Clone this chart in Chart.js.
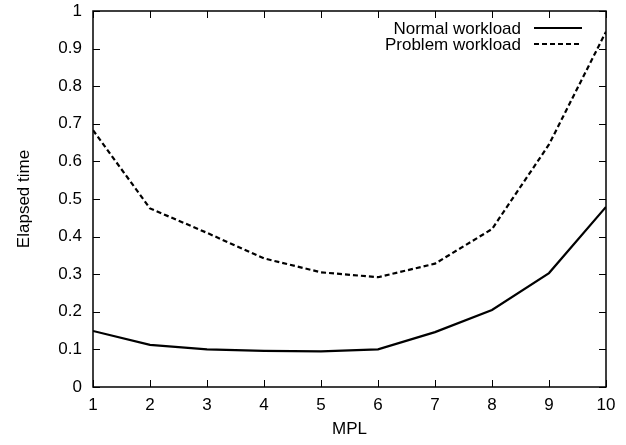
<!DOCTYPE html>
<html>
<head>
<meta charset="utf-8">
<script src="https://cdn.jsdelivr.net/npm/chart.js@4/dist/chart.umd.min.js"></script>
<style>
  html, body { margin: 0; padding: 0; background: #fff; }
  #wrap { width: 626px; height: 445px; }
</style>
</head>
<body>
<div id="wrap"><canvas id="chart" width="626" height="445"></canvas></div>
<script>
// -------- data --------
const mpl = [1, 2, 3, 4, 5, 6, 7, 8, 9, 10];
const normalWorkload  = [0.149, 0.112, 0.100, 0.096, 0.095, 0.100, 0.146, 0.205, 0.303, 0.479];
const problemWorkload = [0.683, 0.475, 0.410, 0.342, 0.305, 0.292, 0.328, 0.420, 0.645, 0.945];
const seriesLabels = ["Normal workload", "Problem workload"];
const xTitle = "MPL";
const yTitle = "Elapsed time";

const FONT = "'Liberation Sans', Arial, Helvetica, sans-serif";
const FS = 17;
const toPts = (ys) => ys.map((y, i) => ({ x: mpl[i], y }));
// gnuplot prints 0 and 1 without decimals
const fmtY = (v) => String(+v.toFixed(1));

// gnuplot-style frame + inward ticks on all four sides
const framePlugin = {
  id: "frame",
  afterDatasetsDraw(chart) {
    const { ctx, chartArea: a, scales } = chart;
    const len = 7;
    ctx.save();
    ctx.strokeStyle = "#000";
    ctx.lineWidth = 1;
    ctx.beginPath();
    scales.x.ticks.forEach(t => {
      const px = Math.round(scales.x.getPixelForValue(t.value)) + 0.5;
      ctx.moveTo(px, a.bottom); ctx.lineTo(px, a.bottom - len);
      ctx.moveTo(px, a.top);    ctx.lineTo(px, a.top + len);
    });
    scales.y.ticks.forEach(t => {
      const py = Math.round(scales.y.getPixelForValue(t.value)) + 0.5;
      ctx.moveTo(a.left, py);  ctx.lineTo(a.left + len, py);
      ctx.moveTo(a.right, py); ctx.lineTo(a.right - len, py);
    });
    ctx.stroke();
    ctx.lineWidth = 1.5;
    ctx.strokeRect(a.left, a.top, a.right - a.left, a.bottom - a.top);
    ctx.restore();
  }
};

// key in the top right corner: text on the left, line sample on the right
const keyPlugin = {
  id: "key",
  afterDatasetsDraw(chart) {
    const { ctx, chartArea: a } = chart;
    ctx.save();
    ctx.font = FS + "px " + FONT;
    ctx.fillStyle = "#000";
    ctx.textAlign = "right";
    ctx.textBaseline = "middle";
    chart.data.datasets.forEach((ds, i) => {
      const y = a.top + 17 + i * 16;
      ctx.fillText(ds.label, a.right - 85, y + 1);
      ctx.strokeStyle = ds.borderColor;
      ctx.lineWidth = ds.borderWidth;
      ctx.setLineDash(ds.borderDash || []);
      ctx.beginPath();
      ctx.moveTo(a.right - 72, y);
      ctx.lineTo(a.right - 24, y);
      ctx.stroke();
    });
    ctx.restore();
  }
};

new Chart(document.getElementById("chart"), {
  type: "line",
  data: {
    datasets: [
      { label: seriesLabels[0], data: toPts(normalWorkload),
        borderColor: "#000", borderWidth: 2.2, pointRadius: 0, tension: 0 },
      { label: seriesLabels[1], data: toPts(problemWorkload),
        borderColor: "#000", borderWidth: 2.2, borderDash: [5, 3], pointRadius: 0, tension: 0 }
    ]
  },
  options: {
    responsive: false,
    animation: false,
    layout: { padding: { left: 0, right: 20, top: 11, bottom: 0 } },
    plugins: { legend: { display: false }, tooltip: { enabled: false } },
    scales: {
      x: {
        type: "linear", min: 1, max: 10,
        grid: { display: false, drawTicks: false },
        border: { display: false },
        ticks: { stepSize: 1, padding: 8, color: "#000", font: { family: FONT, size: FS }, maxRotation: 0 },
        title: { display: true, text: xTitle, color: "#000", font: { family: FONT, size: FS }, padding: { top: 0, bottom: 5 } },
        afterFit(s) { s.height = 58; s.paddingLeft = 0; s.paddingRight = 0; }
      },
      y: {
        min: 0, max: 1,
        grid: { display: false, drawTicks: false },
        border: { display: false },
        ticks: { stepSize: 0.1, padding: 11, color: "#000", font: { family: FONT, size: FS }, callback: fmtY },
        title: { display: true, text: yTitle, color: "#000", font: { family: FONT, size: FS }, padding: { top: 14, bottom: 0 } },
        afterFit(s) { s.width = 93; s.paddingTop = 0; s.paddingBottom = 0; }
      }
    }
  },
  plugins: [framePlugin, keyPlugin]
});
</script>
</body>
</html>
